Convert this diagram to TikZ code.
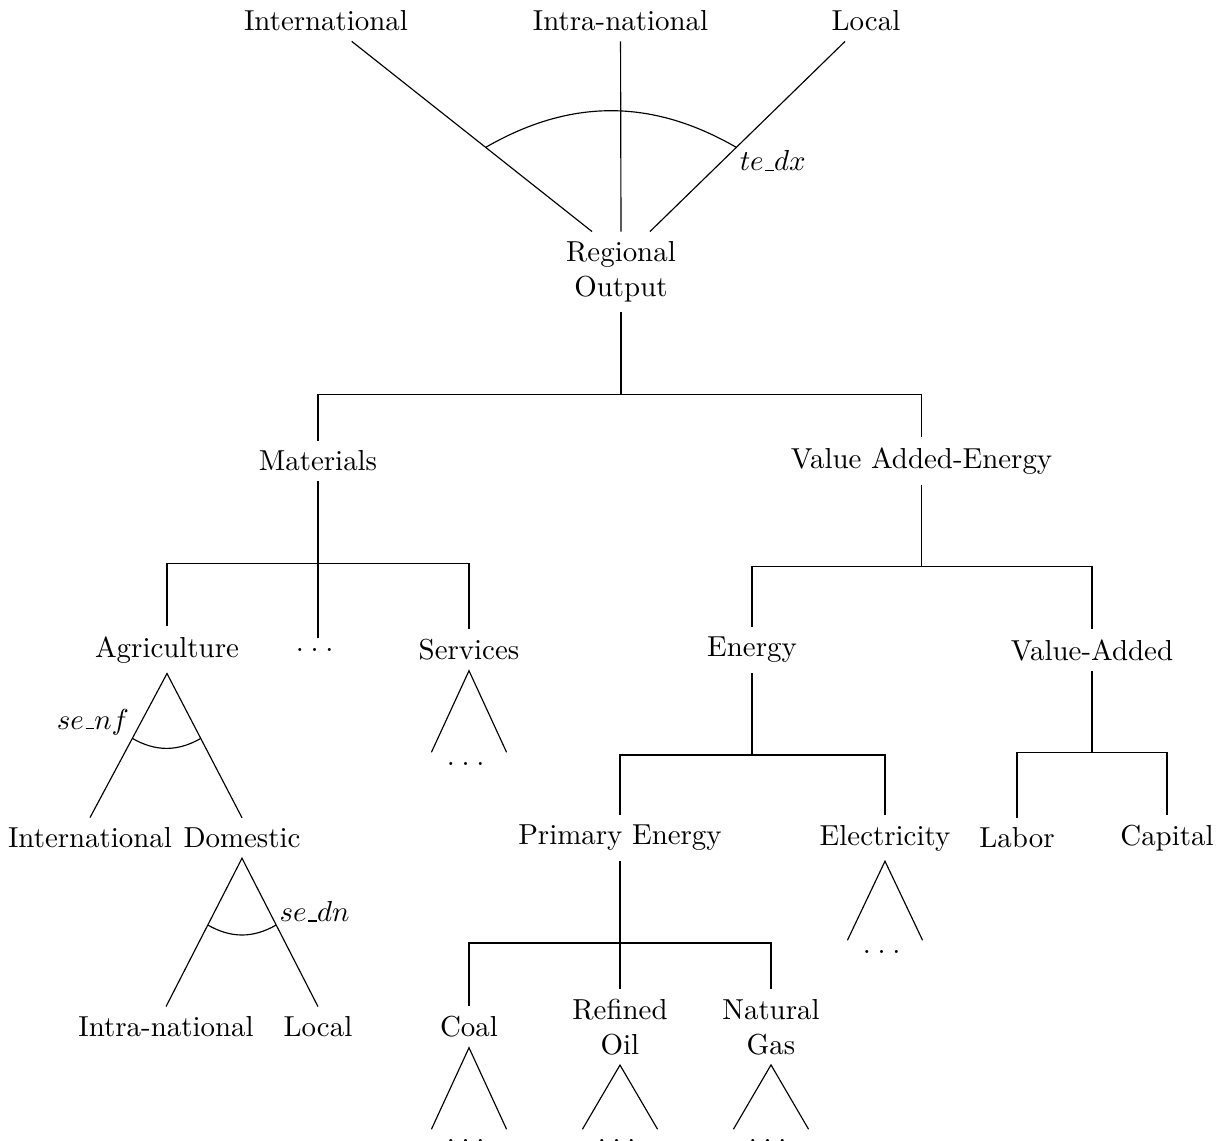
\documentclass[tikz,border=0pt]{standalone}
\usetikzlibrary{calc}
% short low rule used as the underscore in the elasticity names
\newcommand{\lowbar}{\hbox{\kern.06em\vbox{\hrule width.3em}}}
% spaced ellipsis for collapsed sub-nests
\newcommand{\moredots}{.\kern2.3pt.\kern2.3pt.\kern2.3pt}
\begin{document}
\begin{tikzpicture}[x=0.012165cm, y=-0.012165cm,
  tag/.style={inner sep=1pt},
  lines/.style={line width=0.4pt}]
\useasboundingbox (0,0) rectangle (1225,1141);

% ---- nest on top of the regional output ----
\node (intlT)  at (326,21)   {International};
\node (intraT) at (620.5,21) {Intra-national};
\node (localT) at (866,21)   {Local};
\node[align=center] (ro) at (621,272) {Regional\\Output};

% ---- tree levels ----
\node (mat)  at (318,461)   {Materials};
\node (vae)  at (921.5,461) {Value Added-Energy};

\node (agri)  at (167,650)  {Agriculture};
\node (mdots) at (318,650)  {\moredots};
\node (serv)  at (469,650)  {Services};
\node (en)    at (752,650)  {Energy};
\node (va)    at (1092,650) {Value-Added};

\node (intlA) at (90,838)   {International};
\node (dom)   at (242,838)  {Domestic};
\node (pe)    at (620,838)  {Primary Energy};
\node (elec)  at (885,838)  {Electricity};
\node (lab)   at (1017,838) {Labor};
\node (cap)   at (1167,838) {Capital};

\node (intraD) at (166,1027) {Intra-national};
\node (localD) at (318,1027) {Local};
\node (coal)   at (469,1027) {Coal};
\node[align=center] (oil) at (620,1027) {Refined\\Oil};
\node[align=center] (gas) at (771,1027) {Natural\\Gas};

% ---- top fan with its elasticity arc ----
\coordinate (roL) at ([xshift=-10pt]ro.north);
\coordinate (roR) at ([xshift=10pt]ro.north);
\draw[lines] (intlT) -- (roL);
\draw[lines] (intraT) -- (ro.north);
\draw[lines] (localT) -- (roR);
\coordinate (tL) at ($(roL)!0.4!(intlT)$);
\coordinate (tR) at ($(roR)!0.4!(localT)$);
\draw[lines] (tL) to[bend left=30] (tR);
\node[tag, anchor=north west] (tedx) at (tR) {$te\lowbar dx$};

% ---- orthogonal branches ----
\draw[lines] (ro.south) -- ++(0,82) coordinate (b0);
\draw[lines] (mat.north) |- (b0) -| (vae.north);

\draw[lines] (mat.south) -- (mdots.north);
\path (mat.south) ++(0,82) coordinate (b1);
\draw[lines] (agri.north) |- (b1) -| (serv.north);

\draw[lines] (vae.south) -- ++(0,82) coordinate (b2);
\draw[lines] (en.north) |- (b2) -| (va.north);

\draw[lines] (en.south) -- ++(0,82) coordinate (b3);
\draw[lines] (pe.north) |- (b3) -| (elec.north);

\draw[lines] (va.south) -- ++(0,82) coordinate (b4);
\draw[lines] (lab.north) |- (b4) -| (cap.north);

\draw[lines] (pe.south) -- (oil.north);
\path (pe.south) ++(0,82) coordinate (b5);
\draw[lines] (coal.north) |- (b5) -| (gas.north);

% ---- Armington nests under agriculture ----
\draw[lines] (intlA.north) -- (agri.south) -- (dom.north);
\coordinate (aL) at ($(agri.south)!0.45!(intlA.north)$);
\coordinate (aR) at ($(agri.south)!0.45!(dom.north)$);
\draw[lines] (aL) to[bend right=30] (aR);
\node[tag, anchor=south east] (senf) at (aL) {$se\lowbar nf$};

\draw[lines] (intraD.north) -- (dom.south) -- (localD.north);
\coordinate (dL) at ($(dom.south)!0.45!(intraD.north)$);
\coordinate (dR) at ($(dom.south)!0.45!(localD.north)$);
\draw[lines] (dL) to[bend right=30] (dR);
\node[tag, anchor=south west] (sedn) at (dR) {$se\lowbar dn$};

% ---- collapsed sub-nests ----
\foreach \p in {serv,elec,coal,oil,gas}{
  \node (\p-more) at ($(\p)+(0,114)$) {\moredots};
  \draw[lines] ([xshift=-13pt]\p-more.north) -- (\p.south) -- ([xshift=13pt]\p-more.north);
}
\end{tikzpicture}
\end{document}
